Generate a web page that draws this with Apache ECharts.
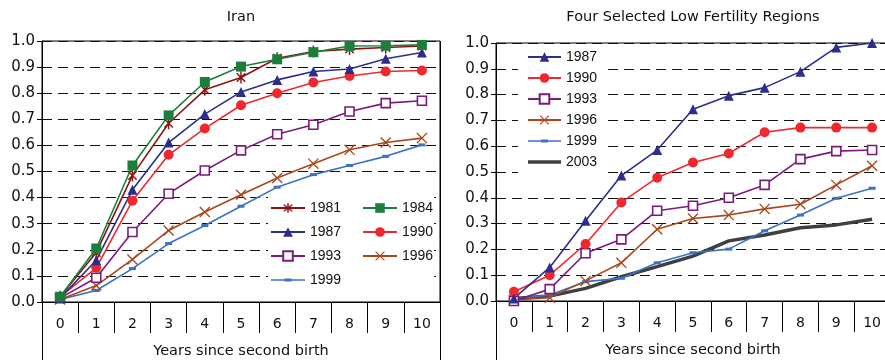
<!DOCTYPE html>
<html>
<head>
<meta charset="utf-8">
<script src="https://cdn.jsdelivr.net/npm/echarts@6/dist/echarts.min.js"></script>
<style>
  html, body { margin: 0; padding: 0; background: #fff; }
  #chart { width: 885px; height: 360px; }
</style>
</head>
<body>
<div id="chart"></div>
<script>
// categories (years since second birth)
var years = ['0', '1', '2', '3', '4', '5', '6', '7', '8', '9', '10'];

// Iran
var iran1981 = [0.02, 0.19, 0.485, 0.685, 0.813, 0.86, 0.934, 0.96, 0.969, 0.975, 0.981];
var iran1984 = [0.02, 0.205, 0.523, 0.715, 0.843, 0.902, 0.93, 0.957, 0.981, 0.982, 0.985];
var iran1987 = [0.015, 0.16, 0.43, 0.611, 0.72, 0.805, 0.851, 0.883, 0.893, 0.932, 0.956];
var iran1990 = [0.02, 0.131, 0.388, 0.564, 0.665, 0.754, 0.80, 0.841, 0.866, 0.883, 0.887];
var iran1993 = [0.015, 0.093, 0.268, 0.415, 0.504, 0.581, 0.643, 0.679, 0.73, 0.762, 0.771];
var iran1996 = [0.01, 0.063, 0.163, 0.274, 0.345, 0.411, 0.475, 0.53, 0.583, 0.611, 0.628];
var iran1999 = [0.01, 0.044, 0.128, 0.224, 0.293, 0.367, 0.44, 0.488, 0.523, 0.558, 0.602];

// four selected low fertility regions
var low1987 = [0.01, 0.13, 0.311, 0.486, 0.585, 0.743, 0.796, 0.827, 0.889, 0.983, 1.0];
var low1990 = [0.036, 0.10, 0.221, 0.382, 0.478, 0.537, 0.572, 0.654, 0.672, 0.672, 0.672];
var low1993 = [0.0, 0.046, 0.185, 0.239, 0.35, 0.369, 0.40, 0.45, 0.55, 0.581, 0.585];
var low1996 = [0.004, 0.013, 0.078, 0.148, 0.278, 0.32, 0.333, 0.357, 0.375, 0.45, 0.524];
var low1999 = [0.008, 0.023, 0.075, 0.088, 0.148, 0.187, 0.201, 0.272, 0.333, 0.398, 0.437];
var low2003 = [0.01, 0.019, 0.049, 0.094, 0.133, 0.174, 0.233, 0.256, 0.284, 0.295, 0.317];

var FONT = 'Liberation Sans, Arial, Helvetica, sans-serif';
var WIDE = 'DejaVu Sans, Verdana, sans-serif';

// marker shapes
var starPath = 'path://M-1.2,-10L1.2,-10L1.2,10L-1.2,10Z' +
  'M-6.22,-7.92L7.92,6.22L6.22,7.92L-7.92,-6.22Z' +
  'M7.92,-6.22L-6.22,7.92L-7.92,6.22L6.22,-7.92Z';
var crossPath = 'path://M-6.8,-8.2L8.2,6.8L6.8,8.2L-8.2,-6.8Z' +
  'M8.2,-6.8L-6.8,8.2L-8.2,6.8L6.8,-8.2Z';
// legend icons drawn as line + marker in one shape
var dashIcon = 'path://M0,6.2L34,6.2L34,7.8L0,7.8Z M13.5,5.5L20.5,5.5L20.5,8.5L13.5,8.5Z';
var thickIcon = 'path://M0,0L33,0L33,3.6L0,3.6Z';

var styles = {
  '1981': { color: '#8a1414', symbol: starPath, size: 12 },
  '1984': { color: '#1b7f3b', symbol: 'rect', size: 10 },
  '1987': { color: '#2c2e8a', symbol: 'triangle', size: 10 },
  '1990': { color: '#f0282d', symbol: 'circle', size: 10 },
  '1993': { color: '#7a1a7d', symbol: 'rect', size: 9, hollow: true },
  '1996': { color: '#a8471c', symbol: crossPath, size: 11 },
  '1999': { color: '#3b72c2', symbol: 'rect', size: [7, 3] },
  '2003': { color: '#3d3f40', symbol: 'none', size: 0, width: 3.5 }
};

function mkSeries(name, data, idx) {
  var s = styles[name];
  return {
    name: name,
    type: 'line',
    data: data,
    xAxisIndex: idx,
    yAxisIndex: idx,
    symbol: s.symbol,
    symbolSize: s.size,
    symbolKeepAspect: true,
    showSymbol: s.symbol !== 'none',
    lineStyle: { color: s.color, width: s.width || 1.6 },
    itemStyle: s.hollow
      ? { color: '#fff', borderColor: s.color, borderWidth: 1.6 }
      : { color: s.color, borderWidth: 0 },
    emphasis: { disabled: true },
    animation: false
  };
}

function mkX(idx) {
  return {
    type: 'category',
    gridIndex: idx,
    data: years,
    boundaryGap: true,
    axisLine: { lineStyle: { color: '#000', width: 1 } },
    axisTick: { show: true, length: 31, lineStyle: { color: '#000', width: 1 } },
    axisLabel: { margin: 15, fontSize: 14, color: '#111', fontFamily: WIDE },
    name: 'Years since second birth',
    nameLocation: 'middle',
    nameGap: 42,
    nameTextStyle: { fontSize: 14.5, color: '#111', fontFamily: WIDE },
    splitLine: { show: false }
  };
}

function mkY(idx) {
  return {
    type: 'value',
    gridIndex: idx,
    min: 0,
    max: 1,
    interval: 0.1,
    axisLine: { show: true, lineStyle: { color: '#000', width: 1 } },
    axisTick: { show: true, length: 5, lineStyle: { color: '#000' } },
    axisLabel: {
      margin: 7, fontSize: 15, color: '#111', fontFamily: WIDE,
      formatter: function (v) { return v.toFixed(1); }
    },
    splitLine: { lineStyle: { color: '#111', type: [10, 6], width: 1.2 } }
  };
}

// grid placement
var g0 = { left: 42, top: 41, width: 398, height: 261 };
var g1 = { left: 496, top: 43, width: 394, height: 258 };

var legendText = { fontSize: 14, color: '#111', fontFamily: FONT };

var chart = echarts.init(document.getElementById('chart'));
chart.setOption({
  backgroundColor: '#fff',
  animation: false,
  title: [
    { text: 'Iran', left: g0.left + g0.width / 2, top: 10, padding: 0, textAlign: 'center',
      textStyle: { fontSize: 14.5, fontWeight: 'normal', color: '#111', fontFamily: WIDE } },
    { text: 'Four Selected Low Fertility Regions', left: 693, top: 10, padding: 0, textAlign: 'center',
      textStyle: { fontSize: 14.5, fontWeight: 'normal', color: '#111', fontFamily: WIDE } }
  ],
  grid: [
    { left: g0.left, top: g0.top, width: g0.width, height: g0.height, outerBoundsMode: 'none',
      show: true, borderColor: '#000', borderWidth: 1 },
    { left: g1.left, top: g1.top, width: g1.width, height: g1.height, outerBoundsMode: 'none',
      show: true, borderColor: '#000', borderWidth: 1 }
  ],
  xAxis: [mkX(0), mkX(1)],
  yAxis: [mkY(0), mkY(1)],
  legend: [
    { data: ['1981', '1987', '1993', { name: '1999', icon: dashIcon }], orient: 'vertical', left: 270, top: 201,
      padding: 0, itemWidth: 34, itemHeight: 12, itemGap: 10, selectedMode: false, textStyle: legendText },
    { data: ['1984', '1990', '1996'], orient: 'vertical', left: 362, top: 201,
      padding: 0, itemWidth: 34, itemHeight: 12, itemGap: 10, selectedMode: false, textStyle: legendText },
    { data: ['1987', '1990', '1993', '1996', { name: '1999', icon: dashIcon }, { name: '2003', icon: thickIcon }],
      orient: 'vertical', left: 527, top: 50,
      padding: 0, itemWidth: 33, itemHeight: 12, itemGap: 7, selectedMode: false, textStyle: legendText }
  ],
  graphic: [
    // white boxes behind the legends
    { type: 'rect', z: 1, shape: { x: 268, y: 186, width: 166, height: 104 }, style: { fill: '#fff' }, silent: true },
    { type: 'rect', z: 1, shape: { x: 518, y: 44, width: 90, height: 134 }, style: { fill: '#fff' }, silent: true },
    // frame lines that run down past the category labels
    { type: 'line', z: 5, shape: { x1: g0.left + 0.5, y1: g0.top + g0.height, x2: g0.left + 0.5, y2: 360 }, style: { stroke: '#000', lineWidth: 1 } },
    { type: 'line', z: 5, shape: { x1: g0.left + g0.width + 0.5, y1: g0.top, x2: g0.left + g0.width + 0.5, y2: 360 }, style: { stroke: '#000', lineWidth: 1 } },
    { type: 'line', z: 5, shape: { x1: g1.left + 0.5, y1: g1.top + g1.height, x2: g1.left + 0.5, y2: 360 }, style: { stroke: '#000', lineWidth: 1 } }
  ],
  series: [
    mkSeries('1999', iran1999, 0),
    mkSeries('1996', iran1996, 0),
    mkSeries('1993', iran1993, 0),
    mkSeries('1990', iran1990, 0),
    mkSeries('1987', iran1987, 0),
    mkSeries('1981', iran1981, 0),
    mkSeries('1984', iran1984, 0),
    mkSeries('2003', low2003, 1),
    mkSeries('1999', low1999, 1),
    mkSeries('1996', low1996, 1),
    mkSeries('1993', low1993, 1),
    mkSeries('1990', low1990, 1),
    mkSeries('1987', low1987, 1)
  ]
});
</script>
</body>
</html>
